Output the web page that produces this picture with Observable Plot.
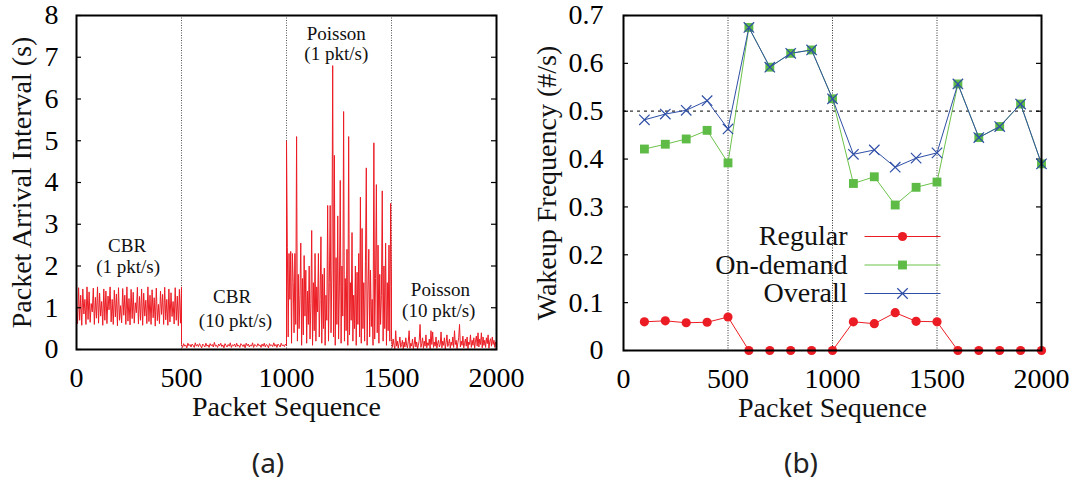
<!DOCTYPE html>
<html>
<head>
<meta charset="utf-8">
<script src="https://cdn.jsdelivr.net/npm/d3@7"></script>
<script src="https://cdn.jsdelivr.net/npm/@observablehq/plot@0.6"></script>
<style>
  html, body { margin: 0; padding: 0; background: #fff; }
  #wrap { position: relative; width: 1078px; height: 483px; overflow: hidden; }
  #pa { position: absolute; left: 0; top: 0; }
  #pb { position: absolute; left: 500px; top: 0; }
  .cap { position: absolute; top: 442px; width: 100px; height: 40px; line-height: 40px; text-align: center;
         font-family: "Noto Sans", "Open Sans", sans-serif; font-size: 28px; color: #222; }
</style>
</head>
<body>
<div id="wrap">
  <div id="pa"></div>
  <div id="pb"></div>
  <div class="cap" style="left:218px">(a)</div>
  <div class="cap" style="left:751px">(b)</div>
</div>
<script>
// ---------- Panel (a): packet arrival interval ----------
const segStarts = [0, 500, 1000, 1500];
const segLength = 500;
const cbr1 = [1.05,0.62,1.48,0.7,1.3,0.58,1.45,0.85,1.2,0.6,1.5,0.72,1.38,0.65,1.1,0.9,1.47,0.6,1.25,0.75,1.5,0.63,1.35,0.8,1.15,0.58,1.45,0.7,1.4,0.62,1.28,0.95,1.5,0.66,1.2,0.6,1.42,0.78,1.33,0.57,1.48,0.7,1.05,0.64,1.46,0.82,1.3,0.6,1.5,0.68,1.22,0.59,1.44,0.74,1.37,0.63,1.12,0.88,1.49,0.61,1.27,0.7,1.45,0.58,1.35,0.8,1.18,0.62,1.5,0.67,1.3,0.6,1.43,0.76,1.24,0.56,1.47,0.69,1.08,0.62,1.4,0.84,1.32,0.6,1.49,0.71,1.2,0.58,1.45,0.66,1.36,0.79,1.15,0.61,1.48,0.7,1.28,0.57,1.44,0.63,1.5];
const cbr10 = [0.12,0.05,0.14,0.08,0.11,0.04,0.15,0.09,0.12,0.06,0.13,0.1,0.05,0.16,0.08,0.12,0.07,0.14,0.09,0.04,0.13,0.1,0.06,0.15,0.08,0.11,0.05,0.14,0.09,0.12,0.06,0.17,0.08,0.1,0.05,0.13,0.09,0.15,0.07,0.11,0.04,0.14,0.1,0.06,0.12,0.08,0.16,0.05,0.11,0.09,0.13,0.06,0.15,0.08,0.1,0.05,0.14,0.11,0.07,0.12,0.04,0.15,0.09,0.13,0.06,0.11,0.08,0.16,0.05,0.12,0.1,0.07,0.14,0.09,0.11,0.05,0.13,0.08,0.15,0.06,0.12,0.1,0.04,0.14,0.09,0.11,0.07,0.16,0.08,0.12,0.05,0.13,0.1,0.06,0.15,0.09,0.11,0.07,0.13,0.1];
const poisson1 = [5.0,2.45,0.3,2.3,1.2,2.35,0.15,2.3,1.6,0.4,2.3,0.6,5.1,0.2,1.8,0.5,1.3,2.55,0.1,1.7,0.35,2.25,0.8,1.9,0.15,1.4,0.6,2.0,0.25,1.1,2.85,0.1,1.6,0.45,2.3,0.2,1.5,0.9,2.3,0.3,1.2,2.7,0.15,1.8,0.5,1.95,0.1,1.3,0.7,3.45,0.2,1.6,3.45,0.4,1.9,6.8,0.3,4.65,0.1,2.2,0.6,3.2,0.25,1.5,4.05,0.15,2.0,0.8,5.7,0.2,1.7,0.45,2.4,0.1,5.1,0.35,1.6,0.7,2.8,0.2,1.3,0.5,2.0,0.1,1.85,0.6,2.3,0.3,3.65,0.15,2.9,0.5,1.6,0.2,2.1,4.35,0.1,1.4,2.4,0.3,1.9,0.55,1.2,0.1,4.95,0.25,1.7,3.95,0.4,2.5,0.15,1.8,0.6,1.3,3.8,0.2,2.0,0.5,2.55,0.1,1.6,0.45,2.5,0.2,3.5,1.5];
const poisson10 = [0.3,0.05,0.25,0.1,0.02,0.45,0.08,0.2,0.03,0.15,0.3,0.05,0.12,0.22,0.02,0.18,0.06,0.28,0.1,0.04,0.2,0.45,0.03,0.15,0.08,0.25,0.02,0.12,0.3,0.06,0.18,0.02,0.1,0.22,0.6,0.05,0.14,0.28,0.03,0.2,0.08,0.35,0.04,0.16,0.1,0.25,0.02,0.45,0.12,0.42,0.05,0.18,0.08,0.3,0.03,0.15,0.22,0.06,0.12,0.42,0.04,0.2,0.1,0.28,0.02,0.16,0.35,0.07,0.14,0.25,0.03,0.18,0.1,0.3,0.05,0.45,0.12,0.22,0.02,0.16,0.28,0.6,0.06,0.2,0.1,0.32,0.04,0.15,0.25,0.08,0.3,0.02,0.18,0.12,0.35,0.05,0.22,0.1,0.28,0.03,0.2,0.32,0.08,0.4,0.06,0.25,0.12,0.4,0.04,0.3,0.1,0.22,0.05,0.28,0.14,0.35,0.03,0.2,0.26,0.08,0.3,0.12,0.22,0.05,0.18,0.1];
const segValues = [cbr1, cbr10, poisson1, poisson10];

const xTicks = [0, 500, 1000, 1500, 2000];
const leftYTicks = [0, 1, 2, 3, 4, 5, 6, 7, 8];
const segBounds = [500, 1000, 1500];

const annText = ["CBR", "(1 pkt/s)", "CBR", "(10 pkt/s)", "Poisson", "(1 pkt/s)", "Poisson", "(10 pkt/s)"];
const annX = [241, 246, 741, 757, 1237, 1237, 1733, 1725];
const annY = [2.47, 1.97, 1.25, 0.68, 7.57, 7.08, 1.43, 0.92];

// ---------- Panel (b): wakeup frequency ----------
const seqB = [100,200,300,400,500,600,700,800,900,1000,1100,1200,1300,1400,1500,1600,1700,1800,1900,2000];
const regular = [0.060,0.062,0.058,0.059,0.070,0,0,0,0,0,0.060,0.056,0.079,0.061,0.060,0,0,0,0,0];
const onDemand = [0.421,0.431,0.442,0.460,0.392,0.675,0.592,0.621,0.628,0.526,0.349,0.363,0.304,0.341,0.352,0.557,0.445,0.468,0.515,0.390];
const overall = [0.482,0.494,0.502,0.522,0.463,0.675,0.592,0.621,0.628,0.526,0.410,0.419,0.383,0.402,0.413,0.557,0.445,0.468,0.515,0.390];
const rightYTicks = [0, 0.1, 0.2, 0.3, 0.4, 0.5, 0.6, 0.7];
const refLevel = [0.5];
const legendNames = ["Regular", "On-demand", "Overall"];

const RED = "#ec1c24", GREEN = "#5dbb46", GREENLINE = "#6cc24a", BLUE = "#2f4fa6";
const FONT = "Liberation Serif, Times New Roman, serif";
const INK = "#111";

// build tables
const arrival = [];
segValues.forEach((vals, s) => {
  vals.forEach((v, i) => arrival.push({seq: segStarts[s] + i * segLength / (vals.length - 1), interval: v}));
});
const ann = annText.map((t, i) => ({t, x: annX[i], y: annY[i]}));
const txt = (o) => ({fontFamily: FONT, fill: INK, ...o});

const plotA = Plot.plot({
  width: 540, height: 440,
  marginLeft: 76, marginRight: 44, marginTop: 15, marginBottom: 91,
  x: {domain: [0, 2000]},
  y: {domain: [0, 8]},
  style: {fontFamily: FONT, fontSize: "28px", color: "#000", background: "transparent"},
  marks: [
    Plot.ruleX(segBounds, {stroke: "#555", strokeWidth: 1, strokeDasharray: "1,1.5"}),
    Plot.line(arrival, {x: "seq", y: "interval", stroke: RED, strokeWidth: 1}),
    Plot.tickY(leftYTicks, {y: d => d, insetRight: 415, stroke: "#000", strokeWidth: 1.2}),
    Plot.tickY(leftYTicks, {y: d => d, insetLeft: 415, stroke: "#000", strokeWidth: 1.2}),
    Plot.axisX(xTicks, {tickSize: 0, tickPadding: 18, fontSize: 28, fontFamily: FONT, label: null, tickFormat: d => String(d)}),
    Plot.axisY(leftYTicks, {tickSize: 0, tickPadding: 18, fontSize: 28, fontFamily: FONT, label: null, tickFormat: d => String(d)}),
    Plot.frame({stroke: "#000", strokeWidth: 2}),
    Plot.text(ann, txt({x: "x", y: "y", text: "t", fontSize: 19})),
    Plot.text(["Packet Sequence"], txt({frameAnchor: "bottom", dy: 58, lineAnchor: "middle", textAnchor: "middle", fontSize: 28})),
    Plot.text(["Packet Arrival Interval (s)"], txt({frameAnchor: "left", dx: -54, rotate: -90, textAnchor: "middle", lineAnchor: "middle", fontSize: 28}))
  ]
});
document.getElementById("pa").appendChild(plotA);

const tblReg = seqB.map((x, i) => ({x, y: regular[i]}));
const tblOn = seqB.map((x, i) => ({x, y: onDemand[i]}));
const tblAll = seqB.map((x, i) => ({x, y: overall[i]}));

const lineSym = {draw(ctx) { ctx.moveTo(-38, 0); ctx.lineTo(38, 0); }};
const legendStyles = [
  {line: RED, sym: "circle", fill: RED, stroke: "none", r: 4.6},
  {line: GREENLINE, sym: "square", fill: GREEN, stroke: "none", r: 5.0},
  {line: BLUE, sym: "times", fill: "none", stroke: BLUE, r: 4.8}
];
const legendMarks = legendNames.flatMap((name, i) => {
  const st = legendStyles[i];
  const dy = 221 + 28.5 * i;
  return [
    Plot.text([name], txt({frameAnchor: "top-left", dx: 224, dy, textAnchor: "end", lineAnchor: "middle", fontSize: 28})),
    Plot.dot([0], {frameAnchor: "top-left", dx: 279, dy, symbol: lineSym, fill: "none", stroke: st.line, strokeWidth: 1}),
    Plot.dot([0], {frameAnchor: "top-left", dx: 279, dy, symbol: st.sym, r: st.r, fill: st.fill, stroke: st.stroke, strokeWidth: 1.2})
  ];
});

const plotB = Plot.plot({
  width: 578, height: 440,
  marginLeft: 123, marginRight: 37, marginTop: 15, marginBottom: 90,
  x: {domain: [0, 2000]},
  y: {domain: [0, 0.7]},
  style: {fontFamily: FONT, fontSize: "28px", color: "#000", background: "transparent"},
  marks: [
    Plot.ruleX(segBounds, {stroke: "#333", strokeWidth: 1, strokeDasharray: "1,1.5"}),
    Plot.ruleY(refLevel, {stroke: "#333", strokeWidth: 1.3, strokeDasharray: "3,4"}),
    Plot.tickY(rightYTicks, {y: d => d, insetRight: 413, stroke: "#000", strokeWidth: 1.2}),
    Plot.tickY(rightYTicks, {y: d => d, insetLeft: 413, stroke: "#000", strokeWidth: 1.2}),
    Plot.line(tblReg, {x: "x", y: "y", stroke: RED, strokeWidth: 1}),
    Plot.dot(tblReg, {x: "x", y: "y", r: 4.6, fill: RED, symbol: "circle"}),
    Plot.line(tblOn, {x: "x", y: "y", stroke: GREENLINE, strokeWidth: 1}),
    Plot.dot(tblOn, {x: "x", y: "y", r: 5.0, fill: GREEN, symbol: "square"}),
    Plot.line(tblAll, {x: "x", y: "y", stroke: BLUE, strokeWidth: 1}),
    Plot.dot(tblAll, {x: "x", y: "y", r: 4.8, stroke: BLUE, fill: "none", strokeWidth: 1.2, symbol: "times"}),
    Plot.axisX(xTicks, {tickSize: 0, tickPadding: 18, fontSize: 28, fontFamily: FONT, label: null, tickFormat: d => String(d)}),
    Plot.axisY(rightYTicks, {tickSize: 0, tickPadding: 20, fontSize: 28, fontFamily: FONT, label: null,
      tickFormat: d => d === 0 ? "0" : d.toFixed(1)}),
    Plot.frame({stroke: "#000", strokeWidth: 2}),
    ...legendMarks,
    Plot.text(["Packet Sequence"], txt({frameAnchor: "bottom", dy: 58, lineAnchor: "middle", textAnchor: "middle", fontSize: 28})),
    Plot.text(["Wakeup Frequency (#/s)"], txt({frameAnchor: "left", dx: -76, rotate: -90, textAnchor: "middle", lineAnchor: "middle", fontSize: 28}))
  ]
});
document.getElementById("pb").appendChild(plotB);
</script>
</body>
</html>
